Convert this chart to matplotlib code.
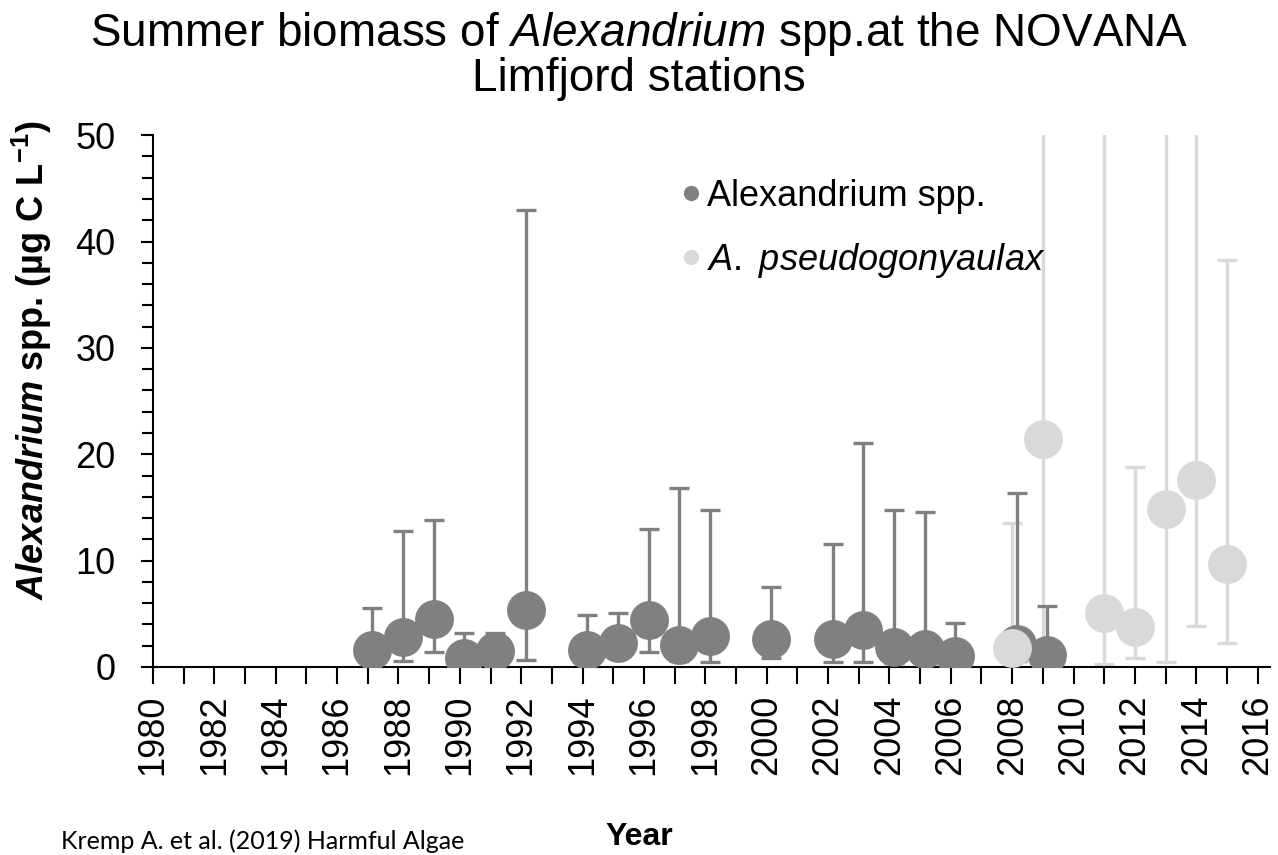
import numpy as np
import matplotlib
matplotlib.use("Agg")
import matplotlib.pyplot as plt
from matplotlib.ticker import MultipleLocator

plt.rcParams['font.family'] = ['Liberation Sans', 'DejaVu Sans']
plt.rcParams['mathtext.fontset'] = 'custom'
plt.rcParams['mathtext.rm'] = 'Liberation Sans'
plt.rcParams['mathtext.it'] = 'Liberation Sans:italic'
plt.rcParams['mathtext.bf'] = 'Liberation Sans:bold'
plt.rcParams['mathtext.bfit'] = 'Liberation Sans:bold:italic'

# Alexandrium spp. (dark series)
alex_years = [1987, 1988, 1989, 1990, 1991, 1992, 1994, 1995, 1996, 1997, 1998,
              2000, 2002, 2003, 2004, 2005, 2006, 2008, 2009]
alex_mean = [1.6, 2.8, 4.5, 0.8, 1.5, 5.4, 1.6, 2.3, 4.4, 2.1, 2.9,
             2.6, 2.6, 3.5, 1.9, 1.7, 1.0, 2.2, 1.1]
alex_low = [0.5, 0.6, 1.4, 0.3, 0.6, 0.7, 0.6, 0.9, 1.4, 0.6, 0.5,
            0.8, 0.5, 0.5, 0.4, 0.4, 0.3, 0.6, 0.4]
alex_high = [5.5, 12.8, 13.8, 3.2, 3.2, 43.0, 4.9, 5.1, 13.0, 16.8, 14.8,
             7.5, 11.6, 21.1, 14.8, 14.6, 4.1, 16.4, 5.7]

# A. pseudogonyaulax (light series)
pseudo_years = [2008, 2009, 2011, 2012, 2013, 2014, 2015]
pseudo_mean = [1.8, 21.4, 5.1, 3.8, 14.9, 17.6, 9.7]
pseudo_low = [0.5, 2.0, 0.3, 0.8, 0.5, 3.9, 2.3]
pseudo_high = [13.5, 60.0, 60.0, 18.8, 60.0, 60.0, 38.3]

dark = '#808080'
light = '#d9d9d9'
dark_shift = 0.15

fig = plt.figure(figsize=(12.78, 8.55), dpi=100)
ax = fig.add_axes([0.1197, 0.2199, 0.874, 0.622])

ax_x = np.array(alex_years) + dark_shift
am = np.array(alex_mean)
pm = np.array(pseudo_mean)
px = np.array(pseudo_years)

ax.errorbar(px, pm, yerr=[pm - np.array(pseudo_low), np.array(pseudo_high) - pm],
            fmt='none', ecolor=light, elinewidth=2.4, capsize=7, capthick=2.4, zorder=1)
ax.errorbar(ax_x, am, yerr=[am - np.array(alex_low), np.array(alex_high) - am],
            fmt='none', ecolor=dark, elinewidth=2.4, capsize=7, capthick=2.4, zorder=2)
ax.plot(ax_x, am, 'o', color=dark, markersize=28, markeredgewidth=0, zorder=3)
ax.plot(px, pm, 'o', color=light, markersize=28, markeredgewidth=0, zorder=4)

# legend handles
h1, = ax.plot([], [], 'o', color=dark, markersize=11, markeredgewidth=0)
h2, = ax.plot([], [], 'o', color=light, markersize=11, markeredgewidth=0)
ax.legend([h1, h2], ['Alexandrium spp.', r'$\mathit{A.\ pseudogonyaulax}$'],
          loc='upper left', bbox_to_anchor=(0.472, 0.918), frameon=False,
          fontsize=26, handlelength=0.6, handletextpad=0.15, labelspacing=0.75,
          borderaxespad=0, borderpad=0)

ax.set_xlim(1980, 2016.4)
ax.set_ylim(0, 50)
ax.xaxis.set_major_locator(MultipleLocator(2))
ax.xaxis.set_minor_locator(MultipleLocator(1))
ax.yaxis.set_major_locator(MultipleLocator(10))
ax.yaxis.set_minor_locator(MultipleLocator(2))
ax.tick_params(axis='x', which='both', direction='out', length=12, width=1.5,
               labelsize=26, labelrotation=90, pad=8)
ax.tick_params(axis='y', which='major', direction='out', length=9, width=1.5,
               labelsize=26, pad=18)
ax.tick_params(axis='y', which='minor', direction='out', length=8, width=1.5)
for s in ['top', 'right']:
    ax.spines[s].set_visible(False)
for s in ['left', 'bottom']:
    ax.spines[s].set_linewidth(1.5)

fig.text(0.025, 0.579, r'$\mathbfit{Alexandrium}$ spp. (µg C L$^{\mathbf{-1}}$)',
         rotation=90, ha='center', va='center', fontsize=26, fontweight='bold')
fig.text(0.5, 0.004, 'Year', ha='center', va='bottom', fontsize=23, fontweight='bold')
fig.text(0.5, 0.988,
         'Summer biomass of $\\mathit{Alexandrium}$ spp.at the NOVANA\nLimfjord stations',
         ha='center', va='top', fontsize=33, linespacing=0.95)
fig.text(0.048, 0.002, 'Kremp A. et al. (2019) Harmful Algae',
         ha='left', va='bottom', fontsize=18, family=['Lato', 'DejaVu Sans'])

fig.savefig('out.png', dpi=100)
